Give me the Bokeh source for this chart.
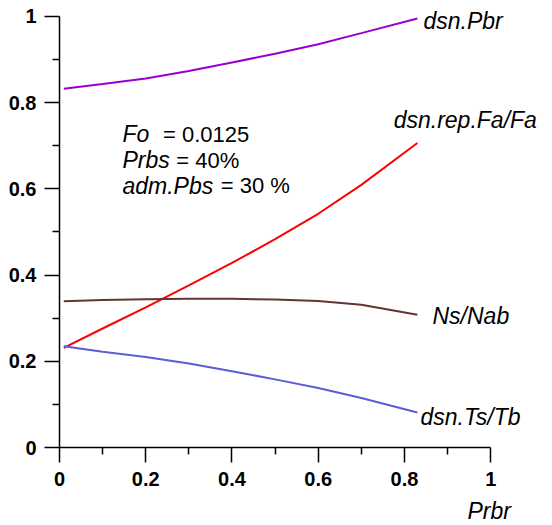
from bokeh.plotting import figure
from bokeh.models import Range1d, FixedTicker, CustomJSTickFormatter, Label, Title
from bokeh.embed import file_html
from bokeh.resources import INLINE

# ---- data ----
prbr = [0.01, 0.1, 0.2, 0.3, 0.4, 0.5, 0.6, 0.7, 0.83]
dsn_pbr = [0.832, 0.843, 0.856, 0.873, 0.893, 0.913, 0.935, 0.961, 0.995]
dsn_rep_fa = [0.231, 0.276, 0.325, 0.376, 0.428, 0.483, 0.542, 0.609, 0.706]
ns_nab = [0.339, 0.342, 0.344, 0.345, 0.345, 0.343, 0.340, 0.331, 0.308]
dsn_ts_tb = [0.235, 0.222, 0.210, 0.195, 0.177, 0.158, 0.138, 0.115, 0.081]

major_ticks = [0, 0.2, 0.4, 0.6, 0.8, 1.0]
minor_ticks = [0.1, 0.3, 0.5, 0.7, 0.9]

FONT = "Liberation Sans"

p = figure(frame_width=493, frame_height=440,
           min_border_left=59, min_border_right=0,
           min_border_top=7, min_border_bottom=78,
           x_range=Range1d(0, 1.1433), y_range=Range1d(0, 1.0204),
           output_backend="svg", toolbar_location=None)
p.outline_line_color = None
p.xgrid.visible = False
p.ygrid.visible = False
p.background_fill_color = "white"
p.border_fill_color = "white"

fmt = CustomJSTickFormatter(code="return (Math.round(tick*10)/10).toString();")
for ax in (p.xaxis[0], p.yaxis[0]):
    ax.bounds = (0, 1)
    ax.ticker = FixedTicker(ticks=major_ticks, minor_ticks=minor_ticks)
    ax.formatter = fmt
    ax.axis_line_color = "black"
    ax.axis_line_width = 1.5
    ax.major_tick_line_color = "black"
    ax.major_tick_line_width = 1.5
    ax.minor_tick_line_color = "black"
    ax.minor_tick_line_width = 1.5
    ax.major_tick_out = 15
    ax.major_tick_in = 0
    ax.minor_tick_out = 7
    ax.minor_tick_in = 0
    ax.major_label_text_font = FONT
    ax.major_label_text_font_style = "bold"
    ax.major_label_text_font_size = "20px"
    ax.major_label_text_color = "black"
p.yaxis[0].major_label_standoff = 8
p.xaxis[0].major_label_standoff = 9

p.line(prbr, dsn_pbr, line_color="#9900CC", line_width=2)
p.line(prbr, dsn_rep_fa, line_color="#FF0000", line_width=2)
p.line(prbr, ns_nab, line_color="#663333", line_width=2)
p.line(prbr, dsn_ts_tb, line_color="#5C5CD6", line_width=2)

def lab(x, y, text, italic=True, size="23px"):
    p.add_layout(Label(x=x, y=y, text=text, text_font=FONT,
                       text_font_style="italic" if italic else "normal",
                       text_font_size=size, text_color="black",
                       text_baseline="alphabetic", text_align="left"))

# curve labels
lab(0.844, 0.990, "dsn.Pbr")
lab(0.775, 0.760, "dsn.rep.Fa/Fa")
lab(0.865, 0.306, "Ns/Nab")
lab(0.837, 0.070, "dsn.Ts/Tb")

# parameter block
lab(0.146, 0.726, "Fo")
lab(0.240, 0.726, "= 0.0125", italic=False, size="22px")
lab(0.146, 0.666, "Prbs")
lab(0.271, 0.666, "= 40%", italic=False, size="22px")
lab(0.146, 0.607, "adm.Pbs")
lab(0.374, 0.607, "= 30 %", italic=False, size="22px")

# axis title (below the x axis, near x = 1)
p.add_layout(Title(text="Prbr", align="left", offset=408, text_font=FONT,
                   text_font_style="italic", text_font_size="23px",
                   text_color="black", standoff=14), "below")

open("out.html", "w").write(file_html(p, INLINE))
